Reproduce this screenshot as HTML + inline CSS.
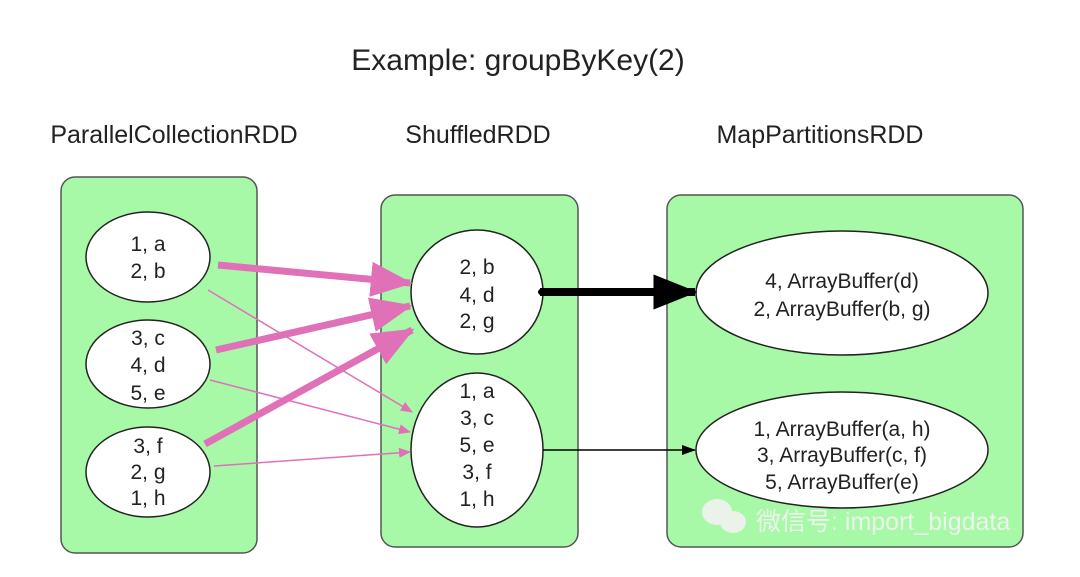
<!DOCTYPE html>
<html><head><meta charset="utf-8"><style>
html,body{margin:0;padding:0;background:#fff;}
svg text{font-family:"Liberation Sans","Noto Sans CJK SC",sans-serif;fill:#222;}
</style></head><body>
<svg width="1080" height="572" viewBox="0 0 1080 572" xmlns="http://www.w3.org/2000/svg">
<defs>
<marker id="pk" markerWidth="6" markerHeight="5" refX="5.6" refY="2.5" orient="auto" markerUnits="strokeWidth"><path d="M0,0 L6,2.5 L0,5 z" fill="#e070b8"/></marker>
<marker id="pt" markerWidth="12" markerHeight="10" refX="11" refY="5" orient="auto" markerUnits="userSpaceOnUse"><path d="M0,0 L12,5 L0,10 z" fill="#e070b8"/></marker>
<marker id="bk" markerWidth="5.5" markerHeight="4.4" refX="5.2" refY="2.2" orient="auto" markerUnits="strokeWidth"><path d="M0,0 L5.5,2.2 L0,4.4 z" fill="#000"/></marker>
<marker id="bt" markerWidth="14" markerHeight="10" refX="13" refY="5" orient="auto" markerUnits="userSpaceOnUse"><path d="M0,0 L14,5 L0,10 z" fill="#000"/></marker>
</defs>
<text x="518" y="70" font-size="30" text-anchor="middle">Example: groupByKey(2)</text>
<text x="174" y="143" font-size="25" text-anchor="middle">ParallelCollectionRDD</text>
<text x="478" y="143" font-size="25" text-anchor="middle">ShuffledRDD</text>
<text x="820" y="143" font-size="25" text-anchor="middle">MapPartitionsRDD</text>
<g fill="#a7f9a7" stroke="#555" stroke-width="1.5">
<rect x="61" y="177" width="196" height="376" rx="14"/>
<rect x="381" y="195" width="197" height="352" rx="14"/>
<rect x="667" y="195" width="356" height="352" rx="14"/>
</g>
<g fill="#fff" stroke="#222" stroke-width="1.5">
<ellipse cx="148" cy="257" rx="62" ry="45"/>
<ellipse cx="148" cy="364" rx="62" ry="44"/>
<ellipse cx="148" cy="472" rx="62" ry="45"/>
<ellipse cx="477" cy="292" rx="66" ry="62"/>
<ellipse cx="477" cy="450" rx="66" ry="77"/>
<ellipse cx="842" cy="293" rx="146" ry="62"/>
<ellipse cx="842" cy="450" rx="146" ry="58"/>
</g>
<g stroke="#e070b8" fill="none">
<line x1="208" y1="290" x2="412" y2="412" stroke-width="1.5" marker-end="url(#pt)"/>
<line x1="210" y1="380" x2="410" y2="432" stroke-width="1.5" marker-end="url(#pt)"/>
<line x1="214" y1="466" x2="410" y2="452" stroke-width="1.5" marker-end="url(#pt)"/>
<line x1="218" y1="265" x2="410" y2="283" stroke-width="7" marker-end="url(#pk)"/>
<line x1="216" y1="350" x2="410" y2="306" stroke-width="7" marker-end="url(#pk)"/>
<line x1="205" y1="444" x2="412" y2="330" stroke-width="7" marker-end="url(#pk)"/>
</g>
<line x1="540" y1="292" x2="695" y2="292" stroke="#000" stroke-width="8" marker-end="url(#bk)"/>
<circle cx="541" cy="292" r="3" fill="#000"/>
<line x1="543" y1="450" x2="695" y2="450" stroke="#000" stroke-width="1.5" marker-end="url(#bt)"/>
<g font-size="21" text-anchor="middle">
<text x="148" y="251">1, a</text><text x="148" y="278">2, b</text>
<text x="148" y="345">3, c</text><text x="148" y="372">4, d</text><text x="148" y="400">5, e</text>
<text x="148" y="453">3, f</text><text x="148" y="479">2, g</text><text x="148" y="505">1, h</text>
<text x="477" y="274">2, b</text><text x="477" y="302">4, d</text><text x="477" y="328">2, g</text>
<text x="477" y="398">1, a</text><text x="477" y="425">3, c</text><text x="477" y="452">5, e</text><text x="477" y="479">3, f</text><text x="477" y="506">1, h</text>
<text x="842" y="288">4, ArrayBuffer(d)</text><text x="842" y="316">2, ArrayBuffer(b, g)</text>
<text x="842" y="436">1, ArrayBuffer(a, h)</text><text x="842" y="462">3, ArrayBuffer(c, f)</text><text x="842" y="489">5, ArrayBuffer(e)</text>
</g>
<g fill="#f2f2f2" opacity="0.9">
<ellipse cx="717" cy="512" rx="15" ry="13"/><ellipse cx="733" cy="522" rx="13" ry="11"/>
</g>
<text x="756" y="530" font-size="25" style="fill:#f4f4f4;opacity:0.9">微信号: import_bigdata</text>
</svg>
</body></html>
